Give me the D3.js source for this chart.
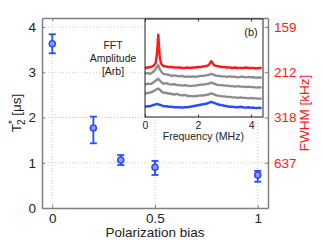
<!DOCTYPE html>
<meta charset="utf-8">
<head>
<title>T2* vs polarization bias</title>
<script type="text/javascript" src="https://cdn.jsdelivr.net/npm/d3@7"></script>
<style>
    body { margin: 0; background: #fff; }
    text { font-family: "Liberation Sans", Arial, Helvetica, sans-serif; }
</style>
</head>
<body>
<div id="chart"></div>
<script>
    // main panel data
    var bias = [0, 0.2, 1/3, 0.5, 1];
    var t2 = [3.63, 1.77, 1.06, 0.90, 0.73];
    var t2Low = [3.42, 1.43, 0.95, 0.73, 0.58];
    var t2High = [3.84, 2.02, 1.17, 1.04, 0.82];
    var xTicks = [0, 0.5, 1];
    var yTicks = [0, 1, 2, 3, 4];
    var fwhmTicks = [1, 2, 3, 4];
    var fwhmLabels = ["637", "318", "212", "159"];

    // inset spectra (arbitrary units, stacked)
    var freq = [0, 0.1, 0.2, 0.3, 0.35, 0.4, 0.45, 0.5, 0.55, 0.6, 0.65, 0.7,
                0.8, 0.9, 1.0, 1.1, 1.2, 1.3, 1.4, 1.5, 1.6, 1.7, 1.8, 1.9, 2.0, 2.1, 2.2, 2.3, 2.4,
                2.45, 2.5, 2.55,
                2.6, 2.7, 2.8, 2.9, 3.0, 3.1, 3.2, 3.3, 3.4, 3.5, 3.6, 3.7, 3.8, 3.9, 4.0, 4.1, 4.2, 4.3, 4.4];
    var specRed = [50, 50.5, 51, 52, 53, 55, 64, 84, 63, 55, 53, 52,
                51.5, 51, 51, 50.5, 50.5, 50.5, 50, 50, 50.5, 50, 50.5, 50.5, 51, 51, 51.5, 52, 53,
                55, 57, 55,
                53, 52, 51.5, 51, 51, 50.5, 50.5, 50, 50.5, 50, 50, 50, 50.5, 50, 50, 50, 49.5, 50, 50];
    var specGray1 = [44, 45, 44, 46, 47, 49, 51, 53, 49, 47, 45, 44,
                43.5, 43, 42, 42.5, 42, 41.5, 42, 41, 41.5, 41, 41.5, 41, 41.5, 42, 42, 42.5, 43,
                43.5, 44, 43.5,
                43, 42, 42, 41.5, 41.5, 41, 41.5, 41, 41, 40.5, 41, 41, 40.5, 41, 40.5, 40.5, 40, 40.5, 40];
    var specGray2 = [33, 34, 33.5, 35, 36, 37, 38, 39, 37.5, 36, 35, 34,
                34.5, 33.5, 33, 33.5, 32.5, 32.5, 32, 32.5, 32, 31.5, 32, 32, 32.5, 33, 33, 33.5, 34,
                34.5, 35, 34.5,
                34, 33, 32.5, 32.5, 32, 32, 31.5, 31.5, 31, 31.5, 31, 31, 30.5, 31, 30.5, 30.5, 30, 30.5, 30];
    var specGray3 = [24, 24.5, 25, 26, 27, 27.5, 28.5, 29, 28, 26.5, 25.5, 25,
                24.5, 24, 23.5, 23, 23.5, 22.5, 22, 22.5, 21.5, 21.5, 21, 21.5, 21.5, 22, 22, 22.5, 23,
                23.5, 24, 23.5,
                23, 22, 21.5, 21, 21, 20.5, 20.5, 20, 20, 19.5, 20, 19.5, 19.5, 19, 19.5, 19, 19, 18.5, 19];
    var specBlue = [10.5, 11, 11, 12, 12.5, 13, 13.5, 13, 12.5, 12, 11.5, 11,
                11, 10.5, 10.5, 10, 10, 10, 9.5, 10, 10, 10.5, 11, 11.5, 12, 12.5, 13, 13.5, 14.5,
                15, 15.5, 15,
                14.5, 13.5, 12.5, 12, 11.5, 11, 10.5, 10.5, 10, 10, 10.5, 10, 9.5, 10, 9.5, 9.5, 9, 9.5, 9];
    var insetTicks = [0, 2, 4];

    var blue = "#2b4bff", red = "#ff1a1a", frame = "#808080";

    var width = 322, height = 241;
    var svg = d3.select("#chart").append("svg")
                .attr("width", width)
                .attr("height", height);

    // main axes box (don't call these top/left: window.top is read-only)
    var mL = 42, mR = 268, mT = 18, mB = 208;
    var x = d3.scaleLinear().domain([-0.05, 1.05]).range([mL, mR]);
    var y = d3.scaleLinear().domain([0, 4.2]).range([mB, mT]);
    var plain = d => String(d);

    // dotted grid
    svg.append("g").selectAll("line").data(xTicks).enter().append("line")
        .attr("x1", d => x(d)).attr("x2", d => x(d))
        .attr("y1", mT).attr("y2", mB)
        .attr("stroke", "#c8c8c8").attr("stroke-dasharray", "1,2");
    svg.append("g").selectAll("line").data(yTicks.slice(1)).enter().append("line")
        .attr("x1", mL).attr("x2", mR)
        .attr("y1", d => y(d)).attr("y2", d => y(d))
        .attr("stroke", "#c8c8c8").attr("stroke-dasharray", "1,2");

    // axes with inward ticks
    var gx = svg.append("g").attr("transform", "translate(0," + mB + ")")
        .call(d3.axisBottom(x).tickValues(xTicks).tickFormat(plain)
              .tickSizeInner(-3).tickSizeOuter(0).tickPadding(5));
    var gxTop = svg.append("g").attr("transform", "translate(0," + mT + ")")
        .call(d3.axisTop(x).tickValues(xTicks).tickSizeInner(-3).tickSizeOuter(0).tickFormat(""));
    var gy = svg.append("g").attr("transform", "translate(" + mL + ",0)")
        .call(d3.axisLeft(y).tickValues(yTicks).tickFormat(plain)
              .tickSizeInner(-3).tickSizeOuter(0).tickPadding(6));
    var gyR = svg.append("g").attr("transform", "translate(" + mR + ",0)")
        .call(d3.axisRight(y).tickValues(fwhmTicks).tickSizeInner(-3).tickSizeOuter(0).tickPadding(6)
              .tickFormat((d, i) => fwhmLabels[i]));

    [gx, gxTop, gy, gyR].forEach(function (g) {
        g.select(".domain").attr("stroke", frame).attr("stroke-width", 1.5);
        g.selectAll(".tick line").attr("stroke", frame);
        g.selectAll(".tick text").attr("font-size", "13.5px").attr("fill", "#222")
            .style("font-family", '"Liberation Sans", Arial, sans-serif');
    });
    gyR.selectAll(".tick text").attr("fill", red);

    // axis labels
    svg.append("text").attr("x", (x(0) + x(1)) / 2).attr("y", 237)
        .attr("text-anchor", "middle").attr("font-size", "13.5px").attr("fill", "#222")
        .text("Polarization bias");

    var yl = svg.append("text")
        .attr("transform", "translate(21," + (mT + mB) / 2 + ") rotate(-90)")
        .attr("text-anchor", "middle").attr("font-size", "13.5px").attr("fill", "#222");
    yl.append("tspan").text("T");
    yl.append("tspan").attr("dy", -5).attr("font-size", "10px").text("*");
    yl.append("tspan").attr("dy", 9).attr("dx", -5).attr("font-size", "10px").text("2");
    yl.append("tspan").attr("dy", -4).text(" [\u03bcs]");

    svg.append("text")
        .attr("transform", "translate(309," + (mT + mB) / 2 + ") rotate(-90)")
        .attr("text-anchor", "middle").attr("font-size", "13.5px").attr("fill", red)
        .text("FWHM [kHz]");

    // error bars + markers
    var pts = svg.append("g");
    bias.forEach(function (b, i) {
        pts.append("line").attr("x1", x(b)).attr("x2", x(b))
            .attr("y1", y(t2Low[i])).attr("y2", y(t2High[i]))
            .attr("stroke", blue).attr("stroke-width", 1.8);
        [t2Low[i], t2High[i]].forEach(function (v) {
            pts.append("line").attr("x1", x(b) - 3.5).attr("x2", x(b) + 3.5)
                .attr("y1", y(v)).attr("y2", y(v))
                .attr("stroke", blue).attr("stroke-width", 1.8);
        });
        pts.append("circle").attr("cx", x(b)).attr("cy", y(t2[i])).attr("r", 3)
            .attr("fill", "#8a9cff").attr("stroke", blue).attr("stroke-width", 1.6);
    });

    // FFT annotation
    var ann = svg.append("text").attr("text-anchor", "middle").attr("font-size", "10.5px").attr("fill", "#222");
    ann.append("tspan").attr("x", 113).attr("y", 49).text("FFT");
    ann.append("tspan").attr("x", 113).attr("y", 62).text("Amplitude");
    ann.append("tspan").attr("x", 113).attr("y", 75).text("[Arb]");

    // inset
    var iL = 145, iR = 263, iT = 19, iB = 117;
    var xi = d3.scaleLinear().domain([0, 4.45]).range([iL, iR]);
    var yi = d3.scaleLinear().domain([0, 100]).range([iB, iT]);

    svg.append("rect").attr("x", iL).attr("y", iT).attr("width", iR - iL).attr("height", iB - iT)
        .attr("fill", "#fff");

    var line = d3.line().x((d, i) => xi(freq[i])).y(d => yi(d));
    var traces = [[specBlue, blue], [specGray3, "#8c8c8c"], [specGray2, "#8c8c8c"],
                  [specGray1, "#8c8c8c"], [specRed, red]];
    traces.forEach(function (t) {
        svg.append("path").datum(t[0]).attr("d", line)
            .attr("fill", "none").attr("stroke", t[1]).attr("stroke-width", 2.4)
            .attr("stroke-linejoin", "round");
    });

    var gi = svg.append("g").attr("transform", "translate(0," + iB + ")")
        .call(d3.axisBottom(xi).tickValues(insetTicks).tickFormat(plain)
              .tickSizeInner(-2.5).tickSizeOuter(0).tickPadding(5));
    var giT = svg.append("g").attr("transform", "translate(0," + iT + ")")
        .call(d3.axisTop(xi).tickValues(insetTicks).tickSizeInner(-2.5).tickSizeOuter(0).tickFormat(""));
    [gi, giT].forEach(function (g) {
        g.select(".domain").attr("stroke", "none");
        g.selectAll(".tick line").attr("stroke", "#333");
        g.selectAll(".tick text").attr("font-size", "10.5px").attr("fill", "#222")
            .style("font-family", '"Liberation Sans", Arial, sans-serif');
    });
    svg.append("rect").attr("x", iL).attr("y", iT).attr("width", iR - iL).attr("height", iB - iT)
        .attr("fill", "none").attr("stroke", "#222").attr("stroke-width", 1);

    svg.append("text").attr("x", xi(2.2)).attr("y", 140)
        .attr("text-anchor", "middle").attr("font-size", "10.5px").attr("fill", "#222")
        .text("Frequency (MHz)");
    svg.append("text").attr("x", 251).attr("y", 36)
        .attr("text-anchor", "middle").attr("font-size", "11px").attr("fill", "#222")
        .text("(b)");
</script>
</body>
</html>
